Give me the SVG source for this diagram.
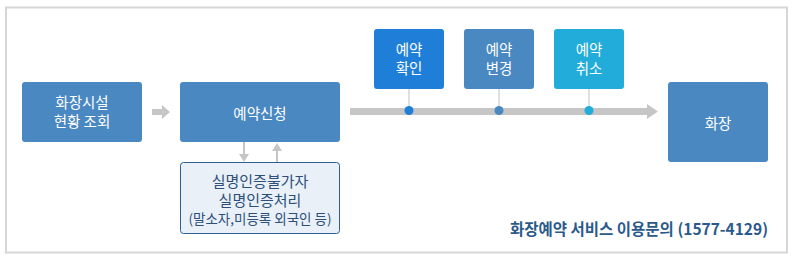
<svg xmlns="http://www.w3.org/2000/svg" width="800" height="261" viewBox="0 0 800 261">
<style>
.box{fill:#4a88c2}
.t{font-family:"Noto Sans CJK KR","Noto Sans",sans-serif;fill:#fff;font-size:14.5px;text-anchor:middle;dominant-baseline:central}
.d{font-family:"Noto Sans CJK KR","Noto Sans",sans-serif;fill:#2d4f78;text-anchor:middle;dominant-baseline:central}
.g{fill:#c6c6c6}
</style>
<rect x="6" y="7.5" width="781" height="245" fill="#fff" stroke="#d6d6d6" stroke-width="2"/>
<g id="connectors">
<polygon class="g" points="152,109 162,109 162,105 170,112 162,119 162,115 152,115"/>
<rect class="g" x="243" y="142" width="2" height="12"/>
<polygon class="g" points="239,154 249,154 244,162"/>
<rect class="g" x="276" y="151" width="2" height="11"/>
<polygon class="g" points="272,151 282,151 277,143"/>
<polygon class="g" points="350,108 647,108 647,104 658,111.5 647,119 647,115 350,115"/>
<line x1="409" y1="89" x2="409" y2="110" stroke="#c0c0c0" stroke-width="1"/>
<line x1="499" y1="89" x2="499" y2="110" stroke="#c0c0c0" stroke-width="1"/>
<line x1="589" y1="89" x2="589" y2="110" stroke="#c0c0c0" stroke-width="1"/>
<circle cx="409" cy="110.5" r="4.5" fill="#1f7fd8"/>
<circle cx="499" cy="110.5" r="4.5" fill="#4a88c2"/>
<circle cx="589" cy="110.5" r="4.5" fill="#22acd9"/>
</g>
<g id="n1"><rect class="box" x="22" y="82" width="120" height="60" rx="3"/>
<text class="t" x="82" y="101" font-size="15">화장시설</text><text class="t" x="82" y="120.5" font-size="15">현황 조회</text></g>
<g id="n2"><rect class="box" x="180" y="82" width="160" height="60" rx="3"/>
<text class="t" x="260" y="112" font-size="15.5">예약신청</text></g>
<g id="n3"><rect x="180.5" y="162.5" width="159" height="71" rx="3" fill="#e9f0f8" stroke="#2e5f93" stroke-width="1"/>
<text class="d" x="260" y="180" font-size="15">실명인증불가자</text>
<text class="d" x="260" y="199" font-size="15">실명인증처리</text>
<text class="d" x="260" y="218" font-size="13.5">(말소자,미등록 외국인 등)</text></g>
<g id="n4"><rect x="374" y="29" width="70" height="60" rx="3" fill="#1f7fd8"/>
<text class="t" x="409" y="48">예약</text><text class="t" x="409" y="67">확인</text></g>
<g id="n5"><rect class="box" x="464" y="29" width="70" height="60" rx="3"/>
<text class="t" x="499" y="48">예약</text><text class="t" x="499" y="67">변경</text></g>
<g id="n6"><rect x="554" y="29" width="70" height="60" rx="3" fill="#22acd9"/>
<text class="t" x="589" y="48">예약</text><text class="t" x="589" y="67">취소</text></g>
<g id="n7"><rect class="box" x="668" y="82" width="100" height="80" rx="3"/>
<text class="t" x="718" y="122" font-size="15.5">화장</text></g>
<text x="768" y="228" font-family="Noto Sans CJK KR,Noto Sans,sans-serif" font-size="15.5" font-weight="bold" fill="#2b5a8a" text-anchor="end" dominant-baseline="central">화장예약 서비스 이용문의 (1577-4129)</text>
</svg>
